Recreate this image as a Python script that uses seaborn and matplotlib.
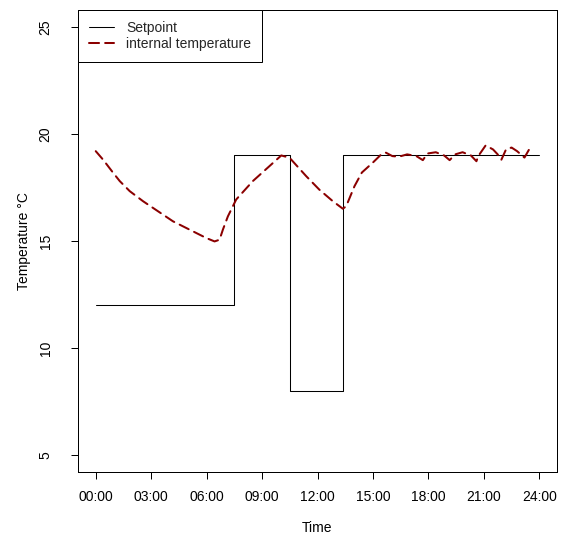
import matplotlib
matplotlib.use("Agg")
import matplotlib.pyplot as plt
import seaborn as sns
import pandas as pd

# Setpoint schedule (hours, degC)
setpoint_hours = [0, 7.5, 10.5, 13.4, 24]
setpoint_values = [12, 19, 8, 19, 19]

# Internal temperature (hours, degC)
temp_hours = [0, 0.4, 0.94, 1.3, 1.84, 2.56, 3.37, 4.18, 5.08, 5.98, 6.43, 6.7,
              6.88, 7.15, 7.6, 8.5, 9.4, 10.04, 10.49, 11.39, 12.1, 12.83, 13.37,
              13.55, 14.0, 14.4, 15.0, 15.45, 15.7, 16.05, 16.4, 16.85, 17.35,
              17.7, 17.95, 18.4, 18.85, 19.15, 19.45, 19.85, 20.3, 20.6, 20.7,
              21.1, 21.5, 21.75, 21.95, 22.2, 22.5, 22.8, 23.2, 23.45, 23.6]
temp_values = [19.2, 18.8, 18.19, 17.8, 17.33, 16.86, 16.39, 15.92, 15.53, 15.14,
               14.98, 15.06, 15.53, 16.15, 16.94, 17.8, 18.5, 19.0, 18.89, 18.03,
               17.4, 16.86, 16.51, 16.62, 17.56, 18.2, 18.67, 19.05, 19.13, 18.97,
               18.94, 19.05, 18.97, 18.78, 19.09, 19.15, 19.0, 18.78, 19.05, 19.15,
               19.0, 18.73, 18.97, 19.47, 19.28, 19.05, 18.8, 19.28, 19.37, 19.2,
               18.9, 19.28, 19.47]

x_ticks = [0, 3, 6, 9, 12, 15, 18, 21, 24]
x_tick_labels = ["00:00", "03:00", "06:00", "09:00", "12:00", "15:00", "18:00", "21:00", "24:00"]
y_ticks = [5, 10, 15, 20, 25]

sns.set_theme(style="ticks")
plt.rcParams["font.family"] = ["Liberation Sans", "DejaVu Sans"]
FS = 10

fig = plt.figure(figsize=(5.61, 5.36), dpi=100)
ax = fig.add_axes([78 / 561, 1 - 472 / 536, 479 / 561, 462 / 536])

sp = pd.DataFrame({"Time": setpoint_hours, "Temp": setpoint_values})
tp = pd.DataFrame({"Time": temp_hours, "Temp": temp_values})

sns.lineplot(data=sp, x="Time", y="Temp", ax=ax, color="black", linewidth=0.75,
             drawstyle="steps-post", estimator=None, label="Setpoint")
sns.lineplot(data=tp, x="Time", y="Temp", ax=ax, color="#8B0000", linewidth=1.45,
             dashes=False, estimator=None, label="internal temperature")
ax.lines[1].set_dashes((5, 3))
ax.lines[1].set_dash_capstyle("round")

ax.set_xlim(-0.96, 24.96)
ax.set_ylim(4.2, 25.8)
ax.set_xticks(x_ticks)
ax.set_xticklabels(x_tick_labels, fontsize=FS)
ax.set_yticks(y_ticks)
ax.set_yticklabels([str(v) for v in y_ticks], fontsize=FS, rotation=90, va="center")
ax.tick_params(axis="both", length=5.2, width=0.72, color="black", labelcolor="black")
ax.tick_params(axis="x", pad=8)
ax.tick_params(axis="y", pad=13)

ax.set_xlabel("Time", fontsize=FS, color="black")
ax.set_ylabel("Temperature °C", fontsize=FS, color="black")
ax.xaxis.set_label_coords(0.5, -0.105)
ax.yaxis.set_label_coords(-0.098, 0.5)

for s in ax.spines.values():
    s.set_visible(True)
    s.set_color("black")
    s.set_linewidth(0.72)

leg = ax.legend(loc="upper left", borderaxespad=0, fancybox=False, fontsize=FS,
                handlelength=1.8, handletextpad=0.85, borderpad=0.8, labelspacing=0.12,
                frameon=True)
leg.get_frame().set_edgecolor("black")
leg.get_frame().set_linewidth(0.72)
leg.get_frame().set_alpha(1)

fig.savefig("out.png", dpi=100, facecolor="white")
